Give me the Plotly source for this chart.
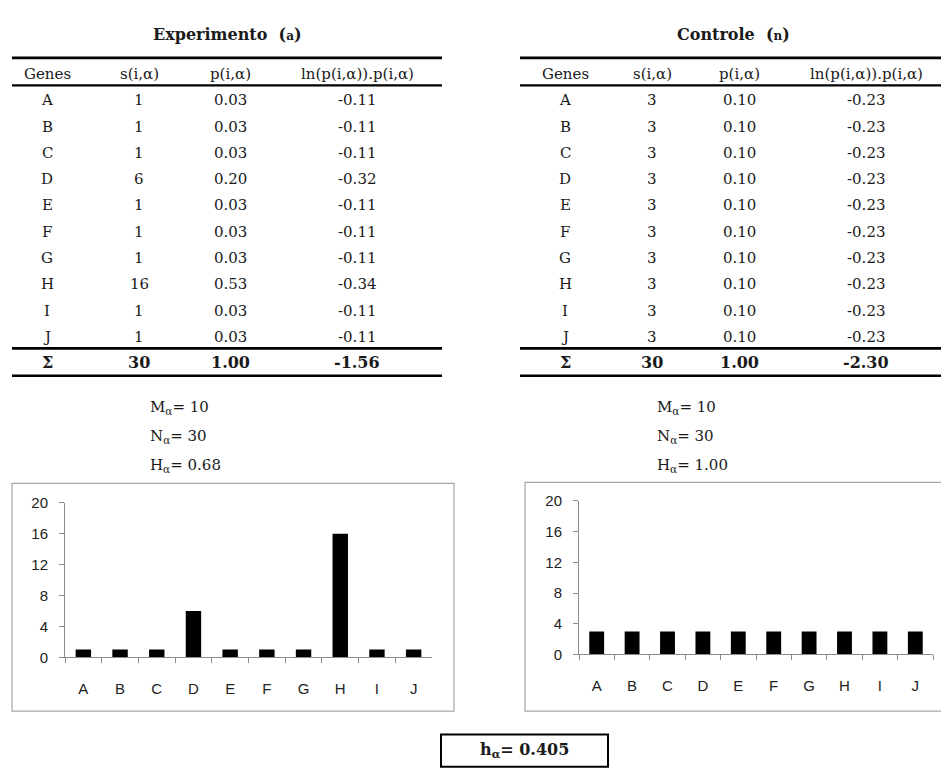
import plotly.graph_objects as go

W, H = 941, 769

genes = ["A", "B", "C", "D", "E", "F", "G", "H", "I", "J"]
s_exp = [1, 1, 1, 6, 1, 1, 1, 16, 1, 1]
p_exp = ["0.03", "0.03", "0.03", "0.20", "0.03", "0.03", "0.03", "0.53", "0.03", "0.03"]
ln_exp = ["-0.11", "-0.11", "-0.11", "-0.32", "-0.11", "-0.11", "-0.11", "-0.34", "-0.11", "-0.11"]
s_ctrl = [3, 3, 3, 3, 3, 3, 3, 3, 3, 3]
p_ctrl = ["0.10"] * 10
ln_ctrl = ["-0.23"] * 10
tot_exp = ["Σ", "30", "1.00", "-1.56"]
tot_ctrl = ["Σ", "30", "1.00", "-2.30"]
headers = ["Genes", "s(i,α)", "p(i,α)", "ln(p(i,α)).p(i,α)"]
stats_exp = [("M", "10"), ("N", "30"), ("H", "0.68")]
stats_ctrl = [("M", "10"), ("N", "30"), ("H", "1.00")]
h_value = "0.405"
y_ticks = [0, 4, 8, 12, 16, 20]

SERIF = "DejaVu Serif"
SANS = "Liberation Sans"
TXT = "#1a1a1a"


def px(x):
    return x / W


def py(y):
    return 1 - y / H


fig = go.Figure()
fig.add_trace(go.Bar(x=genes, y=s_exp, marker=dict(color="black", line=dict(width=0)),
                     width=0.42, xaxis="x", yaxis="y", showlegend=False))
fig.add_trace(go.Bar(x=genes, y=s_ctrl, marker=dict(color="black", line=dict(width=0)),
                     width=0.42, xaxis="x2", yaxis="y2", showlegend=False))

ann = []
shapes = []


def text(x, y, t, size=15, bold=False, xanchor="center", font=SERIF):
    if bold:
        t = "<b>" + t + "</b>"
    ann.append(dict(x=px(x), y=py(y), xref="paper", yref="paper", text=t, showarrow=False,
                    xanchor=xanchor, yanchor="middle",
                    font=dict(family=font, size=size, color=TXT)))


def hline(x0, x1, y, w=2.6):
    shapes.append(dict(type="line", xref="paper", yref="paper", x0=px(x0), x1=px(x1),
                       y0=py(y), y1=py(y), line=dict(color="black", width=w)))


def table(xl, xr, cols, title, sym, title_x, s, p, ln, tot):
    text(title_x, 26, title + "  (<span style='font-size:12px'>" + sym + "</span>)", size=16, bold=True)
    hline(xl, xr, 50)
    hline(xl, xr, 78, 2.2)
    hline(xl, xr, 347)
    hline(xl, xr, 375)
    for c, h in zip(cols, headers):
        text(c, 66, h)
    for i, g in enumerate(genes):
        y = 93.3 + i * 26.9
        vals = [g, str(s[i]), p[i], ln[i]]
        for c, v in zip(cols, vals):
            text(c, y, v)
    for c, v in zip(cols, tot):
        text(c, 362, v, size=16, bold=True)


table(12, 442, [47, 139, 230, 357], "Experimento", "a", 227, s_exp, p_exp, ln_exp, tot_exp)
table(520, 941, [565, 652, 739, 866], "Controle", "n", 733, s_ctrl, p_ctrl, ln_ctrl, tot_ctrl)

for xs, st in [(148, stats_exp), (655, stats_ctrl)]:
    for i, (k, v) in enumerate(st):
        text(xs, 407 + i * 30, k + "<sub>α</sub>= " + v, xanchor="left")

# chart boxes
shapes.append(dict(type="rect", xref="paper", yref="paper", x0=px(12), x1=px(454),
                   y0=py(718), y1=py(485), line=dict(color="#a6a6a6", width=1.2)))
shapes.append(dict(type="rect", xref="paper", yref="paper", x0=px(525), x1=px(945),
                   y0=py(718), y1=py(484), line=dict(color="#a6a6a6", width=1.2)))
# h box
shapes.append(dict(type="rect", xref="paper", yref="paper", x0=px(441), x1=px(608),
                   y0=py(775), y1=py(742), line=dict(color="black", width=2)))
text(524, 758, "h<sub>α</sub>= " + h_value, size=16, bold=True)

axis_common = dict(showgrid=False, zeroline=False, showline=True, linecolor="#8c8c8c",
                   linewidth=1, ticks="outside", tickcolor="#8c8c8c", ticklen=5,
                   tickfont=dict(family=SANS, size=15, color="#222"))

fig.update_layout(
    width=W, height=H, margin=dict(l=0, r=0, t=0, b=0),
    paper_bgcolor="white", plot_bgcolor="white",
    xaxis=dict(domain=[px(65), px(432)], anchor="y", type="category", tickson="boundaries",
               ticklabelstandoff=18, **axis_common),
    yaxis=dict(domain=[py(663), py(505)], anchor="x", range=[0, 20], tickvals=y_ticks,
               ticklabelstandoff=8, **axis_common),
    xaxis2=dict(domain=[px(579), px(933)], anchor="y2", type="category", tickson="boundaries",
                ticklabelstandoff=18, **axis_common),
    yaxis2=dict(domain=[py(660), py(503)], anchor="x2", range=[0, 20], tickvals=y_ticks,
                ticklabelstandoff=8, **axis_common),
    annotations=ann, shapes=shapes,
)

fig.write_html("out.html", config={"displayModeBar": False},
               post_script="document.body.style.margin='0';document.body.style.overflow='hidden';")
